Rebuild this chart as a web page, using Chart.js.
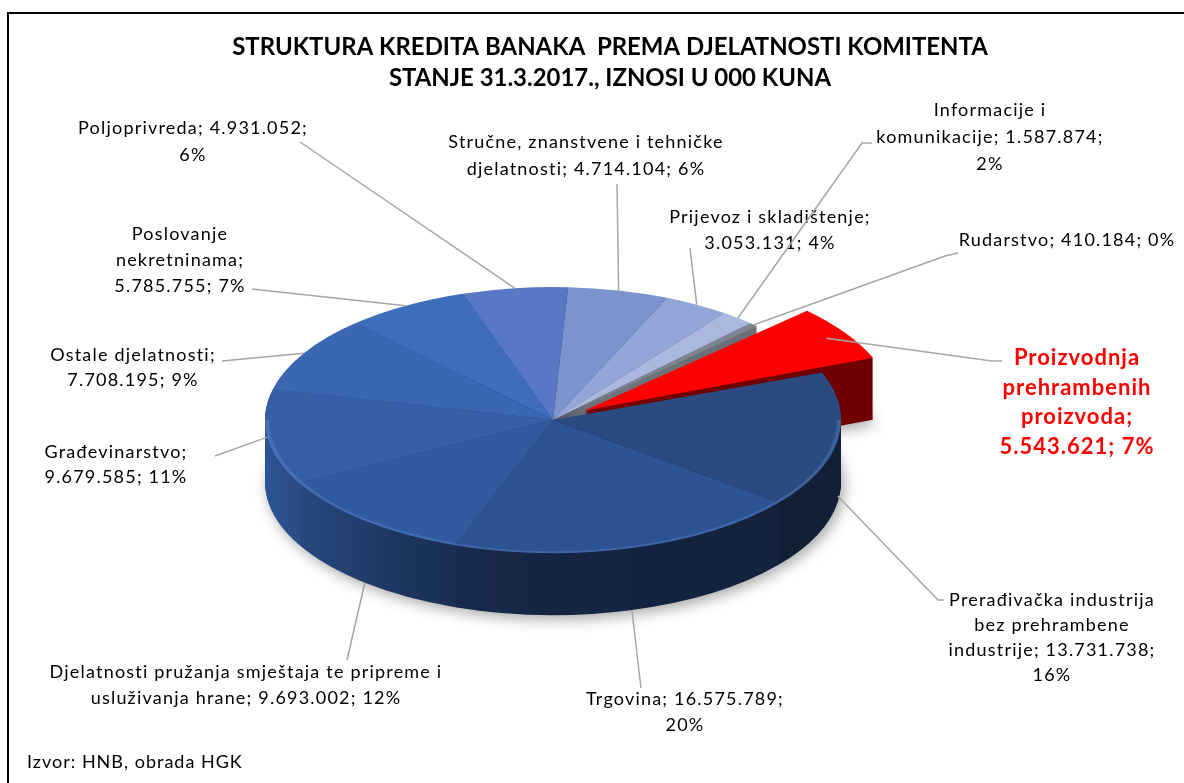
<!DOCTYPE html>
<html><head><meta charset="utf-8">
<script src="https://cdn.jsdelivr.net/npm/chart.js@4.4.1/dist/chart.umd.min.js"></script>
<style>html,body{margin:0;padding:0;background:#fff;}canvas{display:block;}</style>
</head><body>
<canvas id="c" width="1184" height="783"></canvas>
<script>
// ---------------- DATA ----------------
const categories = [
  "Stručne, znanstvene i tehničke djelatnosti",
  "Prijevoz i skladištenje",
  "Informacije i komunikacije",
  "Rudarstvo",
  "Proizvodnja prehrambenih proizvoda",
  "Prerađivačka industrija bez prehrambene industrije",
  "Trgovina",
  "Djelatnosti pružanja smještaja te pripreme i usluživanja hrane",
  "Građevinarstvo",
  "Ostale djelatnosti",
  "Poslovanje nekretninama",
  "Poljoprivreda"
];
const values = [4714104, 3053131, 1587874, 410184, 5543621, 13731738, 16575789, 9693002, 9679585, 7708195, 5785755, 4931052];
const titleLines = ["STRUKTURA KREDITA BANAKA  PREMA DJELATNOSTI KOMITENTA", "STANJE 31.3.2017., IZNOSI U 000 KUNA"];
const sourceNote = "Izvor: HNB, obrada HGK";

// ---------------- STYLE / LAYOUT ----------------
const sliceColors = ["#7C93CE", "#93A6D8", "#AAB8E0", "#7F848E", "#FF0000", "#2A4A80", "#2E5394", "#315A9F", "#3560A8", "#3A66B2", "#3E6DBC", "#5878C5"];
const sideBoost = [1, 1, 1, 2.0, 1.05, 1, 1, 1, 1, 1, 1, 1];
const explode = [0, 0, 0, 0, 150, 0, 0, 0, 0, 0, 0, 0];
const highlighted = [false, false, false, false, true, false, false, false, false, false, false, false];
// label layout: center x, first-line y, words per line, line height, label-side leader end, optional elbow, depth fraction at pie end
const labelLayout = [
  {cx: 586, y: 142, words: [4, 3], lh: 27, end: [617, 184], depth: 0},
  {cx: 770, y: 217, words: [3, 2], lh: 26, end: [690, 248], depth: 0},
  {cx: 990, y: 110, words: [2, 2, 1], lh: 27, end: [872, 143], elbow: [862, 143], depth: 0},
  {cx: 1067, y: 240, words: [3], lh: 26, end: [958, 253], elbow: [945, 256], depth: 0},
  {cx: 1077, y: 358, words: [1, 1, 1, 2], lh: 29.6, end: [1002, 361], elbow: [992, 361], depth: 0},
  {cx: 1052, y: 600, words: [2, 2, 2, 1], lh: 25, end: [944, 600], elbow: [938, 600], depth: 0.9},
  {cx: 685, y: 699, words: [2, 1], lh: 26, end: [641, 688], depth: 1},
  {cx: 246, y: 672, words: [6, 4], lh: 26, end: [347, 660], depth: 1},
  {cx: 116, y: 452, words: [1, 2], lh: 25, end: [215, 456], depth: 0},
  {cx: 133, y: 355, words: [2, 2], lh: 25, end: [222, 361], depth: 0},
  {cx: 180, y: 234, words: [1, 1, 2], lh: 26, end: [252, 289], depth: 0},
  {cx: 193, y: 128, words: [2, 1], lh: 27, end: [300, 142], depth: 0}
];
const FONT = "Lato, 'Open Sans', sans-serif";
const K = 0.462;      // vertical squash of the pie
const DEPTH = 62;     // thickness of the pie in px

// ---------------- HELPERS ----------------
function fmt(v) { return String(v).replace(/\B(?=(\d{3})+(?!\d))/g, '.'); }
function percents(vals) {
  const tot = vals.reduce((a, b) => a + b, 0);
  const raw = vals.map(v => v / tot * 100);
  const fl = raw.map(Math.floor);
  let rest = 100 - fl.reduce((a, b) => a + b, 0);
  const order = raw.map((r, i) => [r - Math.floor(r), i]).sort((a, b) => b[0] - a[0]);
  for (let j = 0; j < rest; j++) fl[order[j][1]]++;
  return fl;
}
const pcts = percents(values);
function hexToRgb(h) { const n = parseInt(h.slice(1), 16); return [(n >> 16) & 255, (n >> 8) & 255, n & 255]; }
function shade(h, f) { const [r, g, b] = hexToRgb(h); const c = v => Math.min(255, Math.round(v * f)); return `rgb(${c(r)},${c(g)},${c(b)})`; }
const sideStops = [[260, 0.88], [330, 0.74], [420, 0.56], [550, 0.45], [700, 0.42], [880, 0.42]];
function sideGradient(ctx, col, boost) {
  const x0 = sideStops[0][0], x1 = sideStops[sideStops.length - 1][0];
  const g = ctx.createLinearGradient(x0, 0, x1, 0);
  sideStops.forEach(([x, f]) => g.addColorStop((x - x0) / (x1 - x0), shade(col, Math.min(1, f * boost))));
  return g;
}
function squash(ctx, cx, cy) { ctx.translate(cx, cy); ctx.scale(1, K); ctx.translate(-cx, -cy); }

// ---------------- PLUGINS ----------------
const pie3d = {
  id: 'pie3d',
  beforeDraw(chart) {
    const ctx = chart.ctx;
    ctx.save(); ctx.fillStyle = '#fff'; ctx.fillRect(0, 0, chart.width, chart.height); ctx.restore();
  },
  beforeDatasetsDraw(chart) {
    const ctx = chart.ctx;
    const arcs = chart.getDatasetMeta(0).data;
    const cx = arcs[0].x, cy = arcs[0].y;
    const saved = arcs.map(a => a.options);
    arcs.forEach((a, i) => { a.options = Object.assign({}, saved[i], {backgroundColor: sideGradient(ctx, sliceColors[i], sideBoost[i]), borderWidth: 0}); });
    // soft shadow under the pie
    ctx.save();
    ctx.shadowColor = 'rgba(0,0,0,0.35)'; ctx.shadowBlur = 14; ctx.shadowOffsetX = 3; ctx.shadowOffsetY = 4;
    ctx.translate(0, DEPTH); squash(ctx, cx, cy);
    arcs.forEach(a => a.draw(ctx));
    ctx.restore();
    for (let d = DEPTH - 1; d >= 1; d--) {
      ctx.save(); ctx.translate(0, d); squash(ctx, cx, cy);
      arcs.forEach(a => a.draw(ctx));
      ctx.restore();
    }
    arcs.forEach((a, i) => { a.options = saved[i]; });
    ctx.save(); squash(ctx, cx, cy);
  },
  afterDatasetsDraw(chart) {
    const ctx = chart.ctx;
    ctx.restore();
    const arcs = chart.getDatasetMeta(0).data;
    const cx = arcs[0].x, cy = arcs[0].y;
    // rim highlight on the front edge
    ctx.save(); squash(ctx, cx, cy);
    arcs.forEach((a, i) => {
      if (explode[i]) return;
      const s = a.startAngle, e = a.endAngle;
      for (let k = -1; k <= 1; k++) {
        const lo = Math.max(s, k * 2 * Math.PI), hi = Math.min(e, k * 2 * Math.PI + Math.PI);
        if (hi > lo) {
          ctx.beginPath(); ctx.arc(cx, cy, a.outerRadius - 2, lo, hi);
          ctx.strokeStyle = 'rgba(120,160,230,0.25)'; ctx.lineWidth = 4; ctx.stroke();
        }
      }
    });
    ctx.restore();

    // labels and leader lines
    arcs.forEach((a, i) => {
      const L = labelLayout[i];
      const mid = (a.startAngle + a.endAngle) / 2;
      const off = (explode[i] || 0) / 4;
      const r = a.outerRadius + off;
      const px = cx + Math.cos(mid) * r;
      const py = cy + Math.sin(mid) * r * K + L.depth * DEPTH;
      ctx.save();
      ctx.strokeStyle = '#A6A6A6'; ctx.lineWidth = 1.5;
      ctx.beginPath(); ctx.moveTo(px, py);
      if (L.elbow) ctx.lineTo(L.elbow[0], L.elbow[1]);
      ctx.lineTo(L.end[0], L.end[1]); ctx.stroke();
      ctx.restore();

      const words = (categories[i] + '; ' + fmt(values[i]) + '; ' + pcts[i] + '%').split(' ');
      let w = 0;
      ctx.save();
      if (highlighted[i]) { ctx.font = `bold 22px ${FONT}`; ctx.fillStyle = '#FF0000'; ctx.letterSpacing = '1px'; }
      else { ctx.font = `18px ${FONT}`; ctx.fillStyle = '#000'; ctx.letterSpacing = '1.2px'; }
      ctx.textAlign = 'center'; ctx.textBaseline = 'middle';
      L.words.forEach((n, li) => {
        const line = words.slice(w, w + n).join(' ');
        w += n;
        ctx.fillText(line, L.cx, L.y + li * L.lh);
      });
      ctx.restore();
    });
  },
  afterDraw(chart) {
    const ctx = chart.ctx;
    ctx.save();
    // title, fitted to the reference width
    let size = 21;
    ctx.font = `bold ${size}px ${FONT}`;
    const w = ctx.measureText(titleLines[0]).width;
    size = size * 756 / w;
    ctx.font = `bold ${size}px ${FONT}`;
    ctx.fillStyle = '#000'; ctx.textAlign = 'center'; ctx.textBaseline = 'middle';
    ctx.fillText(titleLines[0], 610, 47);
    ctx.fillText(titleLines[1], 610, 78);
    // source
    ctx.font = `18px ${FONT}`; ctx.textAlign = 'left'; ctx.letterSpacing = '1px';
    ctx.fillText(sourceNote, 27, 762);
    // frame
    ctx.letterSpacing = '0px';
    ctx.strokeStyle = '#000'; ctx.lineWidth = 2;
    ctx.strokeRect(8, 13, 1200, 800);
    ctx.restore();
  }
};

new Chart(document.getElementById('c'), {
  type: 'pie',
  data: {
    labels: categories,
    datasets: [{
      data: values,
      backgroundColor: sliceColors,
      borderWidth: 0,
      offset: explode
    }]
  },
  options: {
    responsive: false,
    devicePixelRatio: 1,
    animation: false,
    events: [],
    rotation: 3,
    radius: 288,
    layout: {padding: {left: 0, right: 78, top: 57, bottom: 0}},
    plugins: {legend: {display: false}, tooltip: {enabled: false}, title: {display: false}}
  },
  plugins: [pie3d]
});
</script>
</body></html>
